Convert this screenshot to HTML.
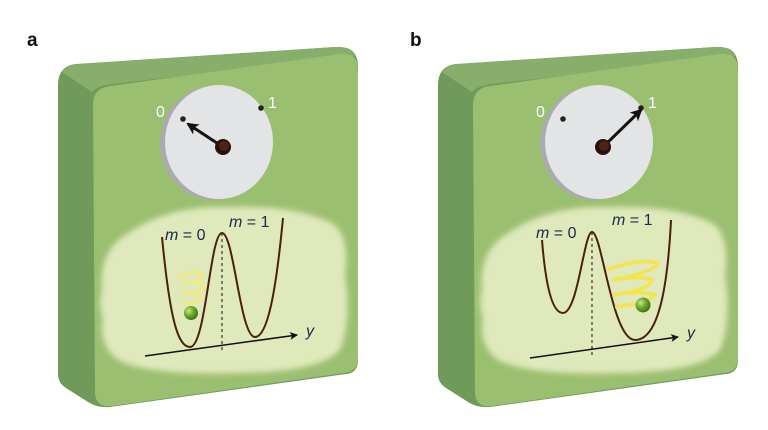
<!DOCTYPE html>
<html><head><style>html,body{margin:0;padding:0;background:#fff}svg{display:block}</style></head>
<body>
<svg width="768" height="430" viewBox="0 0 768 430" xmlns="http://www.w3.org/2000/svg" font-family="Liberation Sans, sans-serif">
<defs>
<radialGradient id="ball" cx="0.35" cy="0.35" r="0.7"><stop offset="0" stop-color="#c8e88a"/><stop offset="0.5" stop-color="#6aa82a"/><stop offset="1" stop-color="#3c6e14"/></radialGradient>
<filter id="blur" x="-10%" y="-10%" width="120%" height="120%"><feGaussianBlur stdDeviation="3"/></filter>
<marker id="ah" markerWidth="8" markerHeight="8" refX="7" refY="4" orient="auto" markerUnits="userSpaceOnUse"><path d="M0,0 L8,4 L0,8 L2,4 Z" fill="#111"/></marker>
<marker id="ah2" markerWidth="12" markerHeight="12" refX="10" refY="6" orient="auto" markerUnits="userSpaceOnUse"><path d="M0,0 L12,6 L0,12 L3,6 Z" fill="#111"/></marker>
<g id="block">
<path d="M58,85 Q58,66 76,64 L335,47 Q358,46 358,66 L358,360 Q358,373 346,374 L110,407 Q97,408 88,402 L66,388 Q58,383 58,374 Z" fill="#6f9a59"/>
<path d="M62,72 Q66,65 80,64 L335,47 Q352,46 356,56 L112,84 Q97,86 92,92 Z" fill="#87ae6b"/>
<path d="M93,105 Q93,88 110,86 L340,54 Q358,52 358,70 L358,358 Q358,372 344,373 L112,406 Q95,408 95,392 Z" fill="#9bbf70"/>
<path d="M102,290 Q98,250 130,232 Q170,205 230,207 Q300,205 335,225 Q350,240 345,275 Q352,320 340,350 Q320,372 240,373 Q150,376 118,360 Q98,345 103,318 Q98,305 102,290 Z" fill="#dfe9bb" filter="url(#blur)"/>
<ellipse cx="214" cy="143" rx="54" ry="57" fill="#a9abad"/>
<ellipse cx="219" cy="142" rx="54" ry="57" fill="#e3e4e6"/>
<circle cx="183" cy="119" r="2.8" fill="#222"/>
<circle cx="261" cy="108" r="2.8" fill="#222"/>
<text x="156" y="117" font-size="16" fill="#fff">0</text>
<text x="268" y="108" font-size="16" fill="#fff">1</text>
</g>
</defs>

<text x="27" y="46" font-size="19" font-weight="bold" fill="#111">a</text>
<text x="410" y="46" font-size="19" font-weight="bold" fill="#111">b</text>

<!-- Panel a -->
<use href="#block"/>
<line x1="223" y1="147" x2="188" y2="124" stroke="#111" stroke-width="3" marker-end="url(#ah2)"/>
<circle cx="223" cy="147" r="8" fill="#2a1008"/><circle cx="224" cy="146" r="5" fill="#4a2418"/>
<line x1="222" y1="233" x2="222" y2="352" stroke="#333" stroke-width="1.2" stroke-dasharray="3,3"/>
<line x1="145" y1="356" x2="297" y2="335" stroke="#111" stroke-width="1.5" marker-end="url(#ah)"/>
<text x="306" y="336" font-size="16" font-style="italic" fill="#1a2a4a">y</text>
<path d="M162,237 C170,320 178,347 190,347 C206,347 210,233 222,233 C234,233 240,337 255,337 C270,337 278,270 283,218" fill="none" stroke="#4a2010" stroke-width="2"/>
<text x="165" y="240" font-size="16" fill="#1a2a4a"><tspan font-style="italic">m</tspan> = 0</text>
<text x="229" y="227" font-size="16" fill="#1a2a4a"><tspan font-style="italic">m</tspan> = 1</text>
<path d="M177,277 Q195,268 203,275 Q200,282 180,283 Q200,280 205,287 Q200,294 180,292 Q200,292 202,298 Q198,304 182,303" fill="none" stroke="#f3ea80" stroke-width="3" opacity="0.9"/>
<circle cx="191" cy="313" r="7" fill="url(#ball)"/>

<!-- Panel b -->
<use href="#block" x="380"/>
<line x1="603" y1="147" x2="641" y2="110" stroke="#111" stroke-width="3" marker-end="url(#ah2)"/>
<circle cx="603" cy="147" r="8" fill="#2a1008"/><circle cx="604" cy="146" r="5" fill="#4a2418"/>
<line x1="592" y1="232" x2="592" y2="356" stroke="#333" stroke-width="1.2" stroke-dasharray="3,3"/>
<line x1="530" y1="358" x2="678" y2="337" stroke="#111" stroke-width="1.5" marker-end="url(#ah)"/>
<text x="687" y="338" font-size="16" font-style="italic" fill="#1a2a4a">y</text>
<path d="M542,240 C546,290 553,313 563,313 C578,313 584,232 592,232 C602,232 612,340 635,340 C660,340 668,280 671,220" fill="none" stroke="#4a2010" stroke-width="2"/>
<text x="536" y="238" font-size="16" fill="#1a2a4a"><tspan font-style="italic">m</tspan> = 0</text>
<text x="612" y="225" font-size="16" fill="#1a2a4a"><tspan font-style="italic">m</tspan> = 1</text>
<path d="M607,270 Q640,258 658,263 Q655,272 612,280 Q640,275 652,280 Q650,290 612,295 Q640,290 655,295 Q650,303 615,307" fill="none" stroke="#f5e640" stroke-width="3.5" opacity="0.9"/>
<circle cx="643" cy="305" r="7.5" fill="url(#ball)"/>
</svg>
</body></html>
